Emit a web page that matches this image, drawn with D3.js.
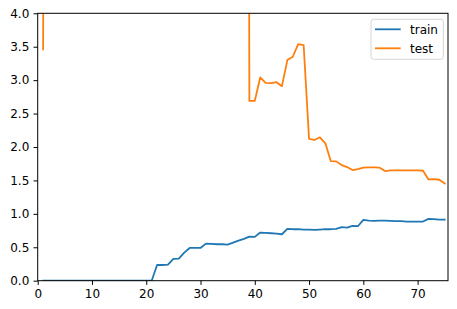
<!DOCTYPE html>
<html>
<head>
<meta charset="utf-8">
<script src="https://cdnjs.cloudflare.com/ajax/libs/d3/7.8.5/d3.min.js"></script>
<style>
  body { margin: 0; background: #fff; }
  text { font-family: "DejaVu Sans", sans-serif; fill: #000; }
</style>
</head>
<body>
<div id="chart"></div>
<script>
var width = 457;
var height = 309;
var margin = {top: 13.3, right: 9, bottom: 28.3, left: 37.7};

// epochs 1..75
var epochs = d3.range(1, 76);

var train = [
  0, 0, 0, 0, 0, 0, 0, 0, 0, 0,
  0, 0, 0, 0, 0, 0, 0, 0, 0, 0,
  0, 0.235, 0.235, 0.24, 0.325, 0.33, 0.42, 0.49, 0.49, 0.49,
  0.555, 0.55, 0.545, 0.545, 0.54, 0.57, 0.6, 0.625, 0.66, 0.655,
  0.72, 0.715, 0.71, 0.705, 0.695, 0.775, 0.77, 0.77, 0.765, 0.765,
  0.76, 0.765, 0.77, 0.77, 0.775, 0.8, 0.795, 0.82, 0.815, 0.91,
  0.9, 0.895, 0.9, 0.9, 0.895, 0.89, 0.89, 0.885, 0.885, 0.885,
  0.885, 0.925, 0.92, 0.915, 0.915
];

// values above 4 are off the chart (clipped), only estimated
var test = [
  3.46, 38.2, 41.5, 36.9, 44.1, 39.7, 42.3, 37.5, 40.8, 43.6,
  38.9, 41.2, 36.4, 39.9, 42.7, 40.1, 37.8, 43.3, 41.9, 38.6,
  40.4, 39.2, 42.9, 37.1, 41.6, 40.7, 38.3, 43.8, 39.5, 41.1,
  37.6, 42.2, 40.3, 38.8, 41.4, 39.6, 42.5, 40.9, 2.69, 2.69,
  3.04, 2.96, 2.955, 2.97, 2.91, 3.30, 3.35, 3.54, 3.525, 2.12,
  2.105, 2.145, 2.055, 1.79, 1.785, 1.73, 1.70, 1.655, 1.67, 1.69,
  1.695, 1.695, 1.69, 1.64, 1.65, 1.65, 1.65, 1.65, 1.65, 1.65,
  1.645, 1.515, 1.52, 1.51, 1.455
];

var xTicks = [0, 10, 20, 30, 40, 50, 60, 70];
var yTicks = [0, 0.5, 1, 1.5, 2, 2.5, 3, 3.5, 4];
var seriesNames = ['train', 'test'];
var seriesColors = ['#1f77b4', '#ff7f0e'];

var svg = d3.select('#chart').append('svg')
  .attr('width', width)
  .attr('height', height);

var xScale = d3.scaleLinear()
  .domain([0, 75.6])
  .range([margin.left, width - margin.right]);

var yScale = d3.scaleLinear()
  .domain([0, 4])
  .range([height - margin.bottom, margin.top]);

svg.append('clipPath').attr('id', 'clip')
  .append('rect')
  .attr('x', margin.left)
  .attr('y', margin.top)
  .attr('width', width - margin.left - margin.right)
  .attr('height', height - margin.top - margin.bottom);

var line = d3.line()
  .x(function(d) { return xScale(d[0]); })
  .y(function(d) { return yScale(d[1]); });

[train, test].forEach(function(values, i) {
  svg.append('path')
    .datum(epochs.map(function(e, j) { return [e, values[j]]; }))
    .attr('clip-path', 'url(#clip)')
    .attr('fill', 'none')
    .attr('stroke', seriesColors[i])
    .attr('stroke-width', 1.8)
    .attr('stroke-linejoin', 'round')
    .attr('stroke-linecap', 'square')
    .attr('d', line);
});

// axes
var xAxis = svg.append('g')
  .attr('transform', 'translate(0,' + (height - margin.bottom) + ')')
  .call(d3.axisBottom(xScale).tickValues(xTicks).tickSize(4.2).tickPadding(4.2));

var yAxis = svg.append('g')
  .attr('transform', 'translate(' + margin.left + ',0)')
  .call(d3.axisLeft(yScale).tickValues(yTicks).tickFormat(d3.format('.1f')).tickSize(4.2).tickPadding(4.2));

[xAxis, yAxis].forEach(function(ax) {
  ax.select('.domain').remove();
  ax.selectAll('text').style('font-size', '12px').attr('fill', '#000');
  ax.selectAll('line').attr('stroke', '#000').attr('stroke-width', 1);
});

// frame
svg.append('rect')
  .attr('x', margin.left)
  .attr('y', margin.top)
  .attr('width', width - margin.left - margin.right)
  .attr('height', height - margin.top - margin.bottom)
  .attr('fill', 'none')
  .attr('stroke', '#000')
  .attr('stroke-width', 1);

// legend
var legend = svg.append('g');
legend.append('rect')
  .attr('x', 371)
  .attr('y', 19.3)
  .attr('width', 72.3)
  .attr('height', 40)
  .attr('rx', 2.5)
  .attr('fill', '#fff')
  .attr('fill-opacity', 0.8)
  .attr('stroke', '#d6d6d6')
  .attr('stroke-width', 1);

seriesNames.forEach(function(name, i) {
  var yy = 29.3 + i * 19;
  legend.append('line')
    .attr('x1', 375).attr('x2', 400.7)
    .attr('y1', yy).attr('y2', yy)
    .attr('stroke', seriesColors[i])
    .attr('stroke-width', 1.8);
  legend.append('text')
    .attr('x', 410)
    .attr('y', yy)
    .attr('dy', '0.35em')
    .style('font-size', '12px')
    .text(name);
});
</script>
</body>
</html>
